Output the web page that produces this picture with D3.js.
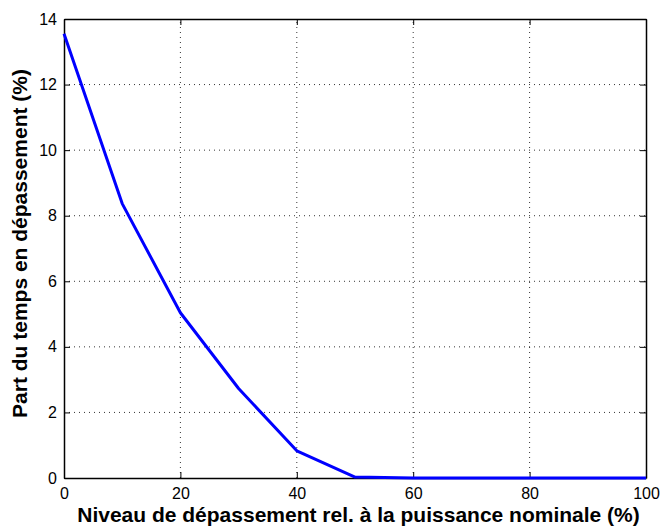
<!DOCTYPE html>
<html><head><meta charset="utf-8">
<script src="https://cdn.jsdelivr.net/npm/d3@7"></script>
<style>body{margin:0;background:#fff}svg{display:block}</style>
</head><body>
<script>
const xValues = [0, 10, 20, 30, 40, 50, 60, 70, 80, 90, 100];
const yValues = [13.55, 8.37, 5.04, 2.73, 0.83, 0.03, 0, 0, 0, 0, 0];
const xTicks = [0, 20, 40, 60, 80, 100];
const yTicks = [0, 2, 4, 6, 8, 10, 12, 14];
const xLabel = "Niveau de dépassement rel. à la puissance nominale (%)";
const yLabel = "Part du temps en dépassement (%)";

const W = 662, H = 526;
const m = {left: 64, right: 16, top: 19, bottom: 48};
const svg = d3.select("body").append("svg").attr("width", W).attr("height", H);
const x = d3.scaleLinear().domain([0, 100]).range([m.left, W - m.right]);
const y = d3.scaleLinear().domain([0, 14]).range([H - m.bottom, m.top]);
const font = "'Liberation Sans', Arial, Helvetica, sans-serif";

// grid
const g = svg.append("g");
g.selectAll(".gx").data(xTicks.slice(1, -1)).enter().append("line")
  .attr("x1", d => x(d)).attr("x2", d => x(d)).attr("y1", y(0)).attr("y2", y(14))
  .attr("stroke", "#000").attr("stroke-width", 0.8).attr("stroke-dasharray", "1,4");
g.selectAll(".gy").data(yTicks.slice(1, -1)).enter().append("line")
  .attr("y1", d => y(d)).attr("y2", d => y(d)).attr("x1", x(0)).attr("x2", x(100))
  .attr("stroke", "#000").attr("stroke-width", 0.8).attr("stroke-dasharray", "1,4");

// axes
const tl = 6;
const axB = svg.append("g").attr("transform", `translate(0,${y(0)})`)
  .call(d3.axisBottom(x).tickValues(xTicks).tickSizeInner(-tl).tickSizeOuter(0).tickPadding(10));
const axL = svg.append("g").attr("transform", `translate(${x(0)},0)`)
  .call(d3.axisLeft(y).tickValues(yTicks).tickSizeInner(-tl).tickSizeOuter(0).tickPadding(7));
const axT = svg.append("g").attr("transform", `translate(0,${y(14)})`)
  .call(d3.axisTop(x).tickValues(xTicks).tickSizeInner(-tl).tickSizeOuter(0).tickFormat(""));
const axR = svg.append("g").attr("transform", `translate(${x(100)},0)`)
  .call(d3.axisRight(y).tickValues(yTicks).tickSizeInner(-tl).tickSizeOuter(0).tickFormat(""));
[axB, axL, axT, axR].forEach(a => {
  a.select(".domain").attr("stroke", "#000").attr("stroke-width", 1.5);
  a.selectAll(".tick line").attr("stroke", "#000").attr("stroke-width", 1);
  a.selectAll("text").attr("font-family", font).attr("font-size", 16).attr("fill", "#000");
});

// line
svg.append("path").datum(xValues.map((d, i) => [d, yValues[i]]))
  .attr("fill", "none").attr("stroke", "#0000ff").attr("stroke-width", 3)
  .attr("stroke-linejoin", "round")
  .attr("d", d3.line().x(d => x(d[0])).y(d => y(d[1])));

// labels
svg.append("text").attr("x", 358.5).attr("y", 522)
  .attr("text-anchor", "middle").attr("font-family", font).attr("font-weight", "bold")
  .attr("font-size", 21).text(xLabel);
svg.append("text").attr("transform", `translate(27,243.5) rotate(-90)`)
  .attr("text-anchor", "middle").attr("font-family", font).attr("font-weight", "bold")
  .attr("font-size", 21).text(yLabel);
</script>
</body></html>
